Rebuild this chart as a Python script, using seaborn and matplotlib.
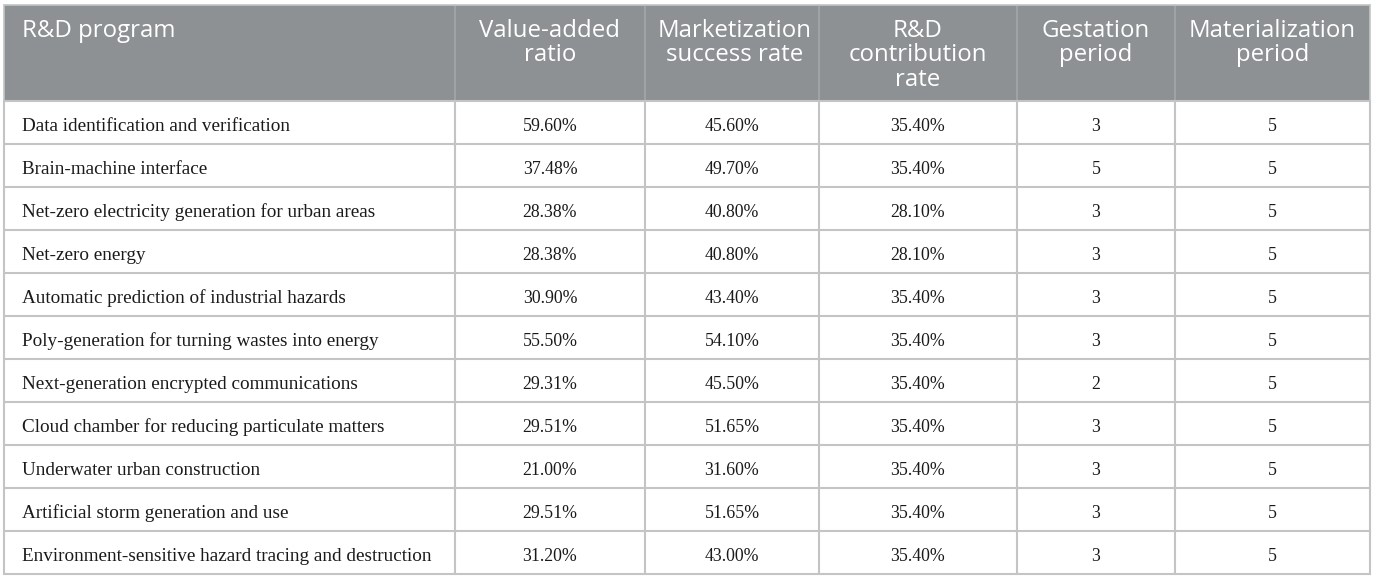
import matplotlib
matplotlib.use("Agg")
import matplotlib.pyplot as plt
import seaborn as sns

# Table content
programs = [
    "Data identification and verification",
    "Brain-machine interface",
    "Net-zero electricity generation for urban areas",
    "Net-zero energy",
    "Automatic prediction of industrial hazards",
    "Poly-generation for turning wastes into energy",
    "Next-generation encrypted communications",
    "Cloud chamber for reducing particulate matters",
    "Underwater urban construction",
    "Artificial storm generation and use",
    "Environment-sensitive hazard tracing and destruction",
]
value_added = ["59.60%", "37.48%", "28.38%", "28.38%", "30.90%", "55.50%",
               "29.31%", "29.51%", "21.00%", "29.51%", "31.20%"]
market_success = ["45.60%", "49.70%", "40.80%", "40.80%", "43.40%", "54.10%",
                  "45.50%", "51.65%", "31.60%", "51.65%", "43.00%"]
rd_contribution = ["35.40%", "35.40%", "28.10%", "28.10%", "35.40%", "35.40%",
                   "35.40%", "35.40%", "35.40%", "35.40%", "35.40%"]
gestation = [3, 5, 3, 3, 3, 3, 2, 3, 3, 3, 3]
materialization = [5, 5, 5, 5, 5, 5, 5, 5, 5, 5, 5]

headers = ["R&D program", "Value-added\nratio", "Marketization\nsuccess rate",
           "R&D\ncontribution\nrate", "Gestation\nperiod", "Materialization\nperiod"]

# layout (pixel-like units)
col_edges = [4, 455, 645, 819, 1017, 1175, 1370]
header_top, header_bottom = 4.5, 100.5
row_h = 43.0

HEADER_GREY = "#8d9193"
LINE_GREY = "#c4c4c4"

sns.set_theme(style="white")
plt.rcParams['font.family'] = ['Open Sans', 'DejaVu Sans']

fig = plt.figure(figsize=(13.75, 5.79), dpi=100)
ax = fig.add_axes([0, 0, 1, 1])
ax.set_xlim(0, 1375)
ax.set_ylim(579, 0)
ax.axis('off')

columns = [programs, value_added, market_success, rd_contribution,
           [str(g) for g in gestation], [str(m) for m in materialization]]
n_rows = len(programs)
table_bottom = header_bottom + n_rows * row_h

# header background
ax.fill_between([col_edges[0], col_edges[-1]], header_top, header_bottom,
                color=HEADER_GREY, lw=0, zorder=1)

# header dividers
for x in col_edges[1:-1]:
    ax.plot([x, x], [header_top, header_bottom], color="#a3a7a9", lw=1.2, zorder=2)
# body dividers
for x in col_edges:
    ax.plot([x, x], [header_bottom, table_bottom], color=LINE_GREY, lw=1.5, zorder=2)
for i in range(n_rows + 1):
    y = header_bottom + i * row_h
    ax.plot([col_edges[0], col_edges[-1]], [y, y], color=LINE_GREY, lw=1.5, zorder=2)
# outer border on header
ax.plot([col_edges[0], col_edges[-1]], [header_top, header_top], color=LINE_GREY, lw=1.2, zorder=2)
ax.plot([col_edges[0], col_edges[0]], [header_top, header_bottom], color=LINE_GREY, lw=1.2, zorder=2)
ax.plot([col_edges[-1], col_edges[-1]], [header_top, header_bottom], color=LINE_GREY, lw=1.2, zorder=2)

# header text
for j, h in enumerate(headers):
    if j == 0:
        x, ha = col_edges[0] + 18, 'left'
    else:
        x, ha = (col_edges[j] + col_edges[j + 1]) / 2 + (3 if j == 2 else 0), 'center'
    ax.text(x, 19, h, ha=ha, va='top', color='white', fontsize=17.3,
            linespacing=1.02, zorder=3)

# body text
for j, col in enumerate(columns):
    for i, val in enumerate(col):
        y = header_bottom + i * row_h + 30.5
        if j == 0:
            x, ha, fs = col_edges[0] + 18, 'left', 13.8
        else:
            x, ha, fs = (col_edges[j] + col_edges[j + 1]) / 2, 'center', 12.8
        ax.text(x, y, val, ha=ha, va='baseline', color='#1a1a1a', fontsize=fs,
                family=['Liberation Serif', 'DejaVu Serif'], zorder=3)

fig.savefig("out.png", dpi=100, facecolor='white')
plt.close(fig)
